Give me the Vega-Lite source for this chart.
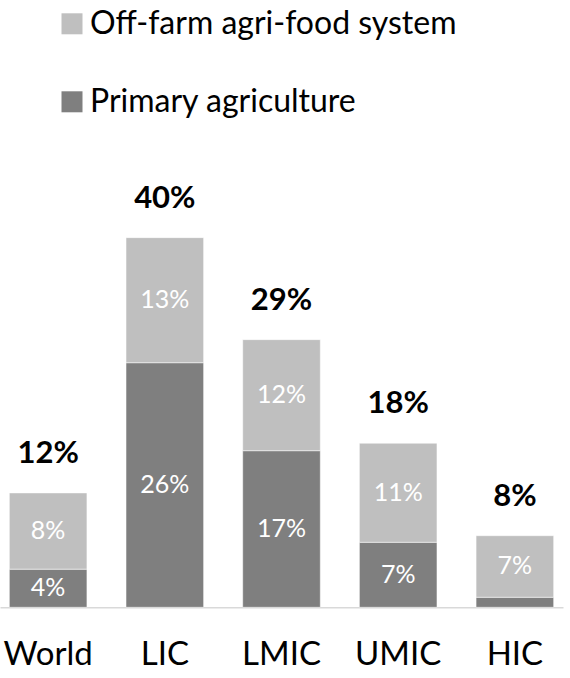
{
  "$schema": "https://vega.github.io/schema/vega-lite/v6.json",
  "width": 563,
  "height": 372,
  "autosize": {"type": "none"},
  "padding": {"left": 0, "top": 235.3, "right": 7, "bottom": 70.7},
  "background": "white",
  "config": {"view": {"stroke": null}, "font": "Lato"},
  "data": {
    "values": [
      {"region": "World", "segment": "Primary agriculture", "value": 0.041},
      {"region": "World", "segment": "Off-farm agri-food system", "value": 0.082},
      {"region": "LIC", "segment": "Primary agriculture", "value": 0.263},
      {"region": "LIC", "segment": "Off-farm agri-food system", "value": 0.1345},
      {"region": "LMIC", "segment": "Primary agriculture", "value": 0.1684},
      {"region": "LMIC", "segment": "Off-farm agri-food system", "value": 0.1194},
      {"region": "UMIC", "segment": "Primary agriculture", "value": 0.0699},
      {"region": "UMIC", "segment": "Off-farm agri-food system", "value": 0.1065},
      {"region": "HIC", "segment": "Primary agriculture", "value": 0.0108},
      {"region": "HIC", "segment": "Off-farm agri-food system", "value": 0.0662}
    ]
  },
  "transform": [
    {"stack": "value", "groupby": ["region"], "sort": [{"field": "segment", "order": "descending"}], "as": ["y0", "y1"], "offset": "zero"},
    {"joinaggregate": [{"op": "sum", "field": "value", "as": "total"}], "groupby": ["region"]},
    {"calculate": "(datum.y0 + datum.y1) / 2", "as": "mid"}
  ],
  "encoding": {
    "x": {
      "field": "region",
      "type": "nominal",
      "sort": ["World", "LIC", "LMIC", "UMIC", "HIC"],
      "scale": {"paddingInner": 0.335, "paddingOuter": 0.08},
      "axis": {
        "title": null,
        "labelFont": "Lato",
        "labelFontSize": 33,
        "labelColor": "black",
        "labelAngle": 0,
        "labelBaseline": "alphabetic",
        "labelPadding": 57,
        "labelLimit": 0,
        "ticks": false,
        "tickSize": 0,
        "grid": false,
        "domainColor": "#d9d9d9",
        "domainWidth": 1.5
      }
    }
  },
  "layer": [
    {
      "mark": {"type": "bar", "stroke": "white", "strokeOpacity": 0.5, "strokeWidth": 1},
      "encoding": {
        "y": {"field": "y0", "type": "quantitative", "scale": {"domain": [0, 0.4], "nice": false, "zero": true}, "axis": null},
        "y2": {"field": "y1"},
        "color": {
          "field": "segment",
          "type": "nominal",
          "scale": {"domain": ["Off-farm agri-food system", "Primary agriculture"], "range": ["#bfbfbf", "#7f7f7f"]},
          "legend": {
            "orient": "none",
            "legendX": 56,
            "legendY": -227.5,
            "title": null,
            "direction": "vertical",
            "symbolType": "square",
            "symbolSize": 441,
            "symbolStrokeWidth": 0,
            "labelFont": "Lato",
            "labelFontSize": 32,
            "labelColor": "black",
            "labelOffset": 2,
            "labelLimit": 0,
            "rowPadding": 46,
            "padding": 0
          }
        }
      }
    },
    {
      "transform": [{"filter": "datum.value >= 0.03"}],
      "mark": {"type": "text", "color": "white", "font": "Lato", "fontSize": 25, "baseline": "middle"},
      "encoding": {
        "y": {"field": "mid", "type": "quantitative"},
        "text": {"field": "value", "type": "quantitative", "format": ".0%"}
      }
    },
    {
      "transform": [{"filter": "datum.segment == 'Off-farm agri-food system'"}],
      "mark": {"type": "text", "color": "black", "font": "Lato", "fontSize": 31, "fontWeight": "bold", "baseline": "alphabetic", "dy": -30},
      "encoding": {
        "y": {"field": "total", "type": "quantitative"},
        "text": {"field": "total", "type": "quantitative", "format": ".0%"}
      }
    }
  ]
}
